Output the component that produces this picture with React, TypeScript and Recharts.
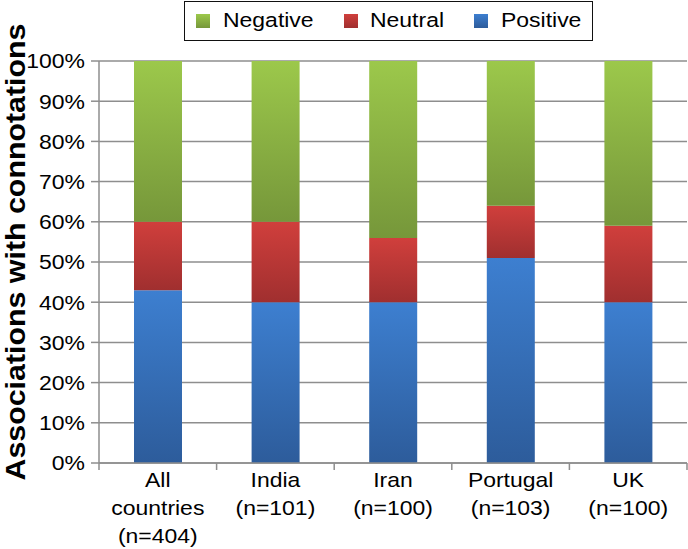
import React from 'react';
import { BarChart, Bar, XAxis, YAxis, CartesianGrid, Legend, Label } from 'recharts';

const categories = ['All\ncountries\n(n=404)', 'India\n(n=101)', 'Iran\n(n=100)', 'Portugal\n(n=103)', 'UK\n(n=100)'];
const positive = [43, 40, 40, 51, 40];
const neutral = [17, 20, 16, 13, 19];
const negative = [40, 40, 44, 36, 41];
const yTicks = [0, 10, 20, 30, 40, 50, 60, 70, 80, 90, 100];
const legendNames = ['Negative', 'Neutral', 'Positive'];
const yLabel = 'Associations with connotations';

const data = categories.map((c, i) => ({
  category: c,
  Positive: positive[i],
  Neutral: neutral[i],
  Negative: negative[i],
}));

const FONT = '"Liberation Sans", Arial, sans-serif';
const FS = 20.5;
const SX = 1.12;
const GRID = '#8e8e8e';

const gradients: Record<string, [string, string]> = {
  Negative: ['#9cc84b', '#76973a'],
  Neutral: ['#d03f3c', '#a02f2f'],
  Positive: ['#3d7fd0', '#2d5c9b'],
};

const legendPos: Record<string, [number, number]> = {
  Negative: [11, 38],
  Neutral: [159, 185],
  Positive: [289, 316],
};

const renderLegend = () => (
  <div
    style={{
      position: 'relative',
      width: 409,
      height: 40,
      border: '1.5px solid #111',
      boxSizing: 'border-box',
      background: '#fff',
      fontFamily: FONT,
    }}
  >
    {legendNames.map((n) => (
      <React.Fragment key={n}>
        <div
          style={{
            position: 'absolute',
            left: legendPos[n][0],
            top: 12,
            width: 14,
            height: 14,
            background: `linear-gradient(${gradients[n][0]}, ${gradients[n][1]})`,
          }}
        />
        <div
          style={{
            position: 'absolute',
            left: legendPos[n][1],
            top: 6,
            fontSize: FS,
            lineHeight: '24px',
            color: '#000',
            whiteSpace: 'nowrap',
            transform: `scaleX(${SX})`,
            transformOrigin: 'left center',
          }}
        >
          {n}
        </div>
      </React.Fragment>
    ))}
  </div>
);

const XTick = (props: any) => {
  const { x, y, payload, index, visibleTicksCount } = props;
  const half = payload.offset || 0;
  const lines = String(payload.value).split('\n');
  const isLast = index === (visibleTicksCount ?? categories.length) - 1;
  return (
    <g>
      <line x1={x - half} x2={x - half} y1={y} y2={y + 7} stroke={GRID} strokeWidth={1.5} />
      {isLast && <line x1={x + half} x2={x + half} y1={y} y2={y + 7} stroke={GRID} strokeWidth={1.5} />}
      <text
        transform={`translate(${x},${y + 24}) scale(${SX},1)`}
        x={0}
        y={0}
        textAnchor="middle"
        fontFamily={FONT}
        fontSize={FS}
        fill="#000"
      >
        {lines.map((l, i) => (
          <tspan key={i} x={0} dy={i === 0 ? 0 : 28}>
            {l}
          </tspan>
        ))}
      </text>
    </g>
  );
};

const YTick = (props: any) => {
  const { x, y, payload } = props;
  return (
    <text
      transform={`translate(${x},${y}) scale(${SX},1)`}
      x={0}
      y={0}
      dy="0.36em"
      textAnchor="end"
      fontFamily={FONT}
      fontSize={FS}
      fill="#000"
    >
      {`${payload.value}%`}
    </text>
  );
};

const YLabelContent = (props: any) => {
  const vb = props.viewBox || { x: 0, y: 61, width: 99, height: 402 };
  const cx = vb.x + 24.5;
  const cy = vb.y + vb.height / 2 - 10;
  return (
    <text
      transform={`translate(${cx},${cy}) scale(1.14,1) rotate(-90)`}
      x={0}
      y={0}
      textAnchor="middle"
      fontFamily={FONT}
      fontWeight="bold"
      fontSize={25}
      fill="#000"
      textLength={457}
      lengthAdjust="spacingAndGlyphs"
    >
      {yLabel}
    </text>
  );
};

export default function App() {
  return (
    <div style={{ position: 'absolute', left: 0, top: 0, width: 688, height: 549, background: '#fff', fontFamily: FONT }}>
      <BarChart width={688} height={549} data={data} margin={{ top: 61, right: 1, bottom: 0, left: 0 }} barSize={48}>
        <defs>
          {Object.keys(gradients).map((k) => (
            <linearGradient key={k} id={`grad-${k}`} x1="0" y1="0" x2="0" y2="1">
              <stop offset="0%" stopColor={gradients[k][0]} />
              <stop offset="100%" stopColor={gradients[k][1]} />
            </linearGradient>
          ))}
        </defs>
        <CartesianGrid vertical={false} stroke={GRID} strokeWidth={1.5} />
        <XAxis
          dataKey="category"
          interval={0}
          height={86}
          tickSize={0}
          tickMargin={0}
          tickLine={false}
          axisLine={{ stroke: GRID, strokeWidth: 1.5 }}
          tick={<XTick />}
        />
        <YAxis
          width={99}
          domain={[0, 100]}
          ticks={yTicks}
          interval={0}
          tickSize={8}
          tickMargin={6}
          tickLine={{ stroke: GRID, strokeWidth: 1.5 }}
          axisLine={{ stroke: GRID, strokeWidth: 1.5 }}
          tick={<YTick />}
        >
          <Label content={<YLabelContent />} />
        </YAxis>
        <Legend
          layout="horizontal"
          verticalAlign="middle"
          align="center"
          content={renderLegend}
          wrapperStyle={{ position: 'absolute', top: 1, left: 184, width: 409, height: 40 }}
        />
        <Bar dataKey="Positive" stackId="a" fill="url(#grad-Positive)" isAnimationActive={false} />
        <Bar dataKey="Neutral" stackId="a" fill="url(#grad-Neutral)" isAnimationActive={false} />
        <Bar dataKey="Negative" stackId="a" fill="url(#grad-Negative)" isAnimationActive={false} />
      </BarChart>
    </div>
  );
}
